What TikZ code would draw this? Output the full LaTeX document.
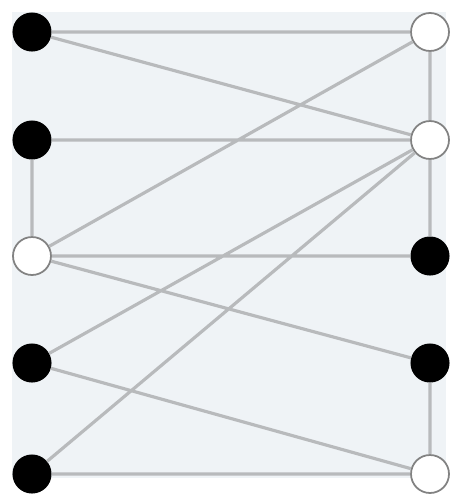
\documentclass[tikz,border=0pt]{standalone}
\usepackage{xcolor}
\usepackage{tikz}
\definecolor{FondoGris}{RGB}{239,243,246}
\definecolor{AristaGris}{RGB}{184,186,188}
\definecolor{BordeGris}{RGB}{130,130,130}
\tikzset{
  negro/.style={circle,fill=black,draw=black,line width=0.6pt,minimum size=0.76cm,inner sep=0pt},
  blanco/.style={circle,fill=white,draw=BordeGris,line width=1pt,minimum size=0.76cm,inner sep=0pt},
  arista/.style={draw=AristaGris,line width=1.8pt}
}

\begin{document}
\begin{tikzpicture}[x=0.02cm,y=-0.02cm]
  \useasboundingbox (0,0) rectangle (453,494);
  \fill[FondoGris] (12,12) rectangle (446,478);
  % columna izquierda
  \node[negro]  (i1) at (32,32)  {};
  \node[negro]  (i2) at (32,140) {};
  \node[blanco] (i3) at (32,256) {};
  \node[negro]  (i4) at (32,363) {};
  \node[negro]  (i5) at (32,474) {};
  % columna derecha
  \node[blanco] (d1) at (430,32)  {};
  \node[blanco] (d2) at (430,140) {};
  \node[negro]  (d3) at (430,256) {};
  \node[negro]  (d4) at (430,363) {};
  \node[blanco] (d5) at (430,474) {};
  % aristas
  \path[arista] (i1) -- (d1) (i1) -- (d2) (i2) -- (d2) (i2) -- (i3)
    (i3) -- (d1) (i3) -- (d3) (i3) -- (d4)
    (i4) -- (d2) (i4) -- (d5) (i5) -- (d2) (i5) -- (d5)
    (d1) -- (d2) (d2) -- (d3) (d4) -- (d5);
\end{tikzpicture}
\end{document}
